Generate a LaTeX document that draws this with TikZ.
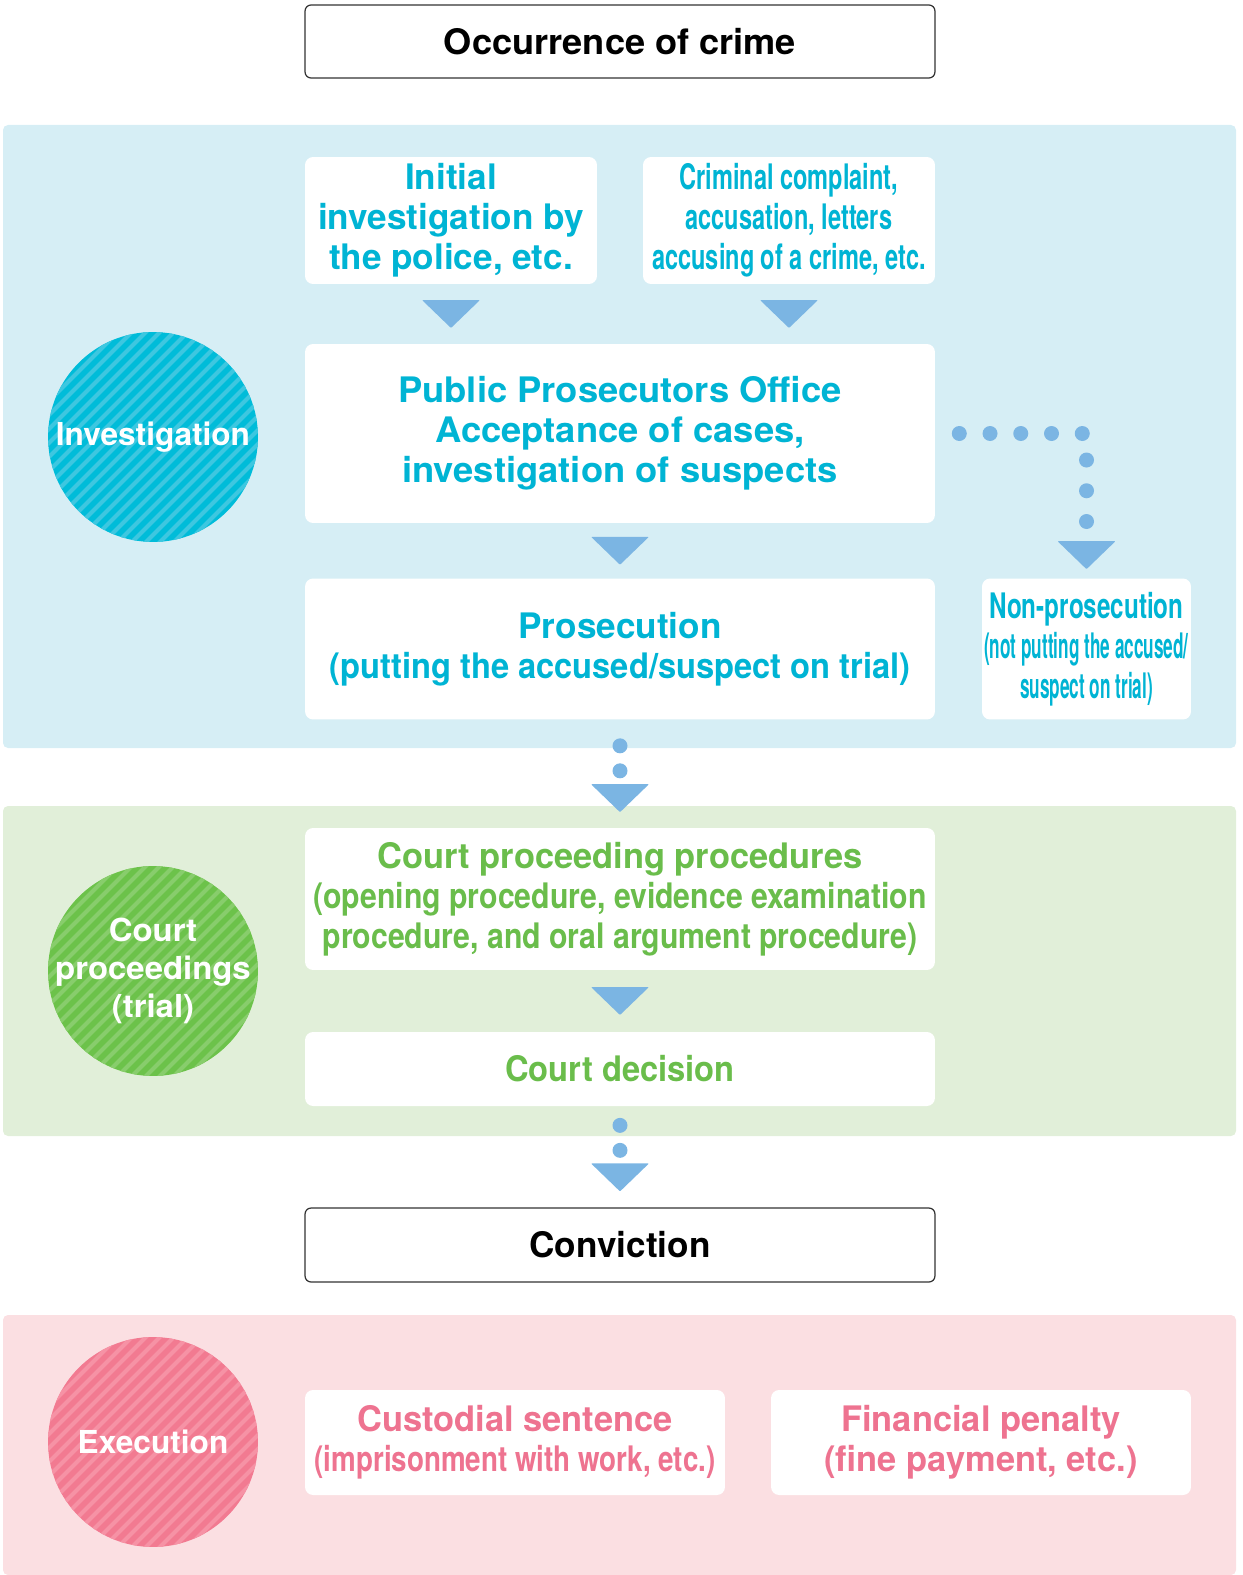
\documentclass[tikz,border=0pt]{standalone}
\usepackage{fontspec}
\setmainfont{TeX Gyre Heros}
\usetikzlibrary{calc}
\definecolor{bandblue}{HTML}{D6EEF5}
\definecolor{bandgreen}{HTML}{E1EFD9}
\definecolor{bandpink}{HTML}{FBDFE2}
\definecolor{cyantext}{HTML}{00B4D4}
\definecolor{greentext}{HTML}{6ABD4B}
\definecolor{pinktext}{HTML}{EE7390}
\definecolor{arrowblue}{HTML}{7BB5E3}
\definecolor{circcyan}{HTML}{00BCD9}
\definecolor{stripecyan}{HTML}{3DC7E0}
\definecolor{circgreen}{HTML}{6CC24A}
\definecolor{stripegreen}{HTML}{88CD6C}
\definecolor{circpink}{HTML}{F27A91}
\definecolor{stripepink}{HTML}{F692A5}
\newcommand{\bodyfont}{\fontsize{20}{22.7}\selectfont\bfseries}
\newcommand{\circfont}{\fontsize{18}{21.5}\selectfont\bfseries}
\newcommand{\squeeze}[1]{\addfontfeatures{FakeStretch=#1}}
\tikzset{
  box/.style={fill=white, rounded corners=0.16cm, inner sep=0pt, align=center, font=\bodyfont},
  outlinebox/.style={box, draw=black!80, line width=0.7pt, rounded corners=0.12cm},
  phase/.style 2 args={circle, minimum size=4.2cm, inner sep=-0.6cm, fill=#1, text=white,
    align=center, font=\circfont,
    path picture={\foreach \k in {-17,...,17}
      \draw[#2, line width=0.08cm] ($(path picture bounding box.center)+(\k*14-170,170)$) -- ++(340,-340);}},
  dotline/.style={arrowblue, line width=0.3cm, line cap=round, dash pattern=on 0pt off #1},
  downtri/.pic={\fill[arrowblue, rounded corners=0.5pt] (-29,-14) -- (29,-14) -- (0,14) -- cycle;}
}
\begin{document}
\begin{tikzpicture}[x=0.02cm, y=-0.02cm]
\useasboundingbox (0,0) rectangle (1242,1575);
% bands
\fill[bandblue, rounded corners=0.1cm] (3,125) rectangle (1236,748);
\fill[bandgreen, rounded corners=0.1cm] (3,806) rectangle (1236,1136);
\fill[bandpink, rounded corners=0.1cm] (3,1315) -- (1236,1315) -- (1236,1575) -- (3,1575) -- cycle;

\node[outlinebox, minimum width=12.6cm, minimum height=1.46cm] (occ) at (620,41.5) {\squeeze{1.03}Occurrence of crime};

% investigation
\node[phase={circcyan}{stripecyan}] (inv) at (153,437) {Investigation};
\node[box, text=cyantext, minimum width=5.84cm, minimum height=2.54cm] (init) at (451,220.5) {Initial\\investigation by\\the police, etc.};
\node[box, text=cyantext, minimum width=5.84cm, minimum height=2.54cm] (compl) at (789,220.5) {\squeeze{0.67}Criminal complaint,\\\squeeze{0.67}accusation, letters\\\squeeze{0.67}accusing of a crime, etc.};
\node[box, text=cyantext, minimum width=12.6cm, minimum height=3.58cm] (ppo) at (620,433.5) {\squeeze{1.035}Public Prosecutors Office\\\squeeze{1.035}Acceptance of cases,\\\squeeze{1.035}investigation of suspects};
\node[box, text=cyantext, minimum width=12.6cm, minimum height=2.82cm] (pros) at (620,649) {Prosecution\\\squeeze{0.93}(putting the accused/suspect on trial)};
\node[box, text=cyantext, minimum width=4.18cm, minimum height=2.82cm] (nonpros) at (1086.5,649) {\squeeze{0.69}Non-prosecution\\\squeeze{0.49}(not putting the accused/\\\squeeze{0.49}suspect on trial)};

\pic at ($(init.south)!.5!(init.south |- ppo.north)$) {downtri};
\pic at ($(compl.south)!.5!(compl.south |- ppo.north)$) {downtri};
\pic at ($(ppo.south)!.5!(pros.north)$) {downtri};
\draw[dotline=0.615cm] ($(ppo.east)+(24,0)$) -| ($(nonpros.north)+(0,-55)$);
\pic at ($(nonpros.north)+(0,-23)$) {downtri};

% court
\node[phase={circgreen}{stripegreen}] (trial) at (153,971) {\squeeze{1.04}Court\\\squeeze{1.04}proceedings\\\squeeze{1.04}(trial)};
\node[box, text=greentext, minimum width=12.6cm, minimum height=2.84cm] (court) at (620,899) {\squeeze{0.98}Court proceeding procedures\\\squeeze{0.86}(opening procedure, evidence examination\\\squeeze{0.86}procedure, and oral argument procedure)};
\node[box, text=greentext, minimum width=12.6cm, minimum height=1.48cm] (decision) at (620,1069) {\squeeze{0.93}Court decision};

\draw[dotline=0.5cm] ($(pros.south)+(0,26)$) -- ($(pros.south)+(0,51)$);
\pic at ($(court.north)+(0,-29.5)$) {downtri};
\pic at ($(court.south)!.5!(decision.north)$) {downtri};

\node[outlinebox, minimum width=12.6cm, minimum height=1.48cm] (conv) at (620,1245) {Conviction};
\draw[dotline=0.5cm] ($(decision.south)+(0,19)$) -- ($(decision.south)+(0,44)$);
\pic at ($(conv.north)+(0,-30)$) {downtri};

% execution
\node[phase={circpink}{stripepink}] (exec) at (153,1442) {Execution};
\node[box, text=pinktext, minimum width=8.4cm, minimum height=2.1cm] (custody) at (515,1442.5) {\squeeze{0.98}Custodial sentence\\\squeeze{0.79}(imprisonment with work, etc.)};
\node[box, text=pinktext, minimum width=8.4cm, minimum height=2.1cm] (fine) at (981,1442.5) {\squeeze{0.98}Financial penalty\\\squeeze{0.98}(fine payment, etc.)};
\end{tikzpicture}
\end{document}
